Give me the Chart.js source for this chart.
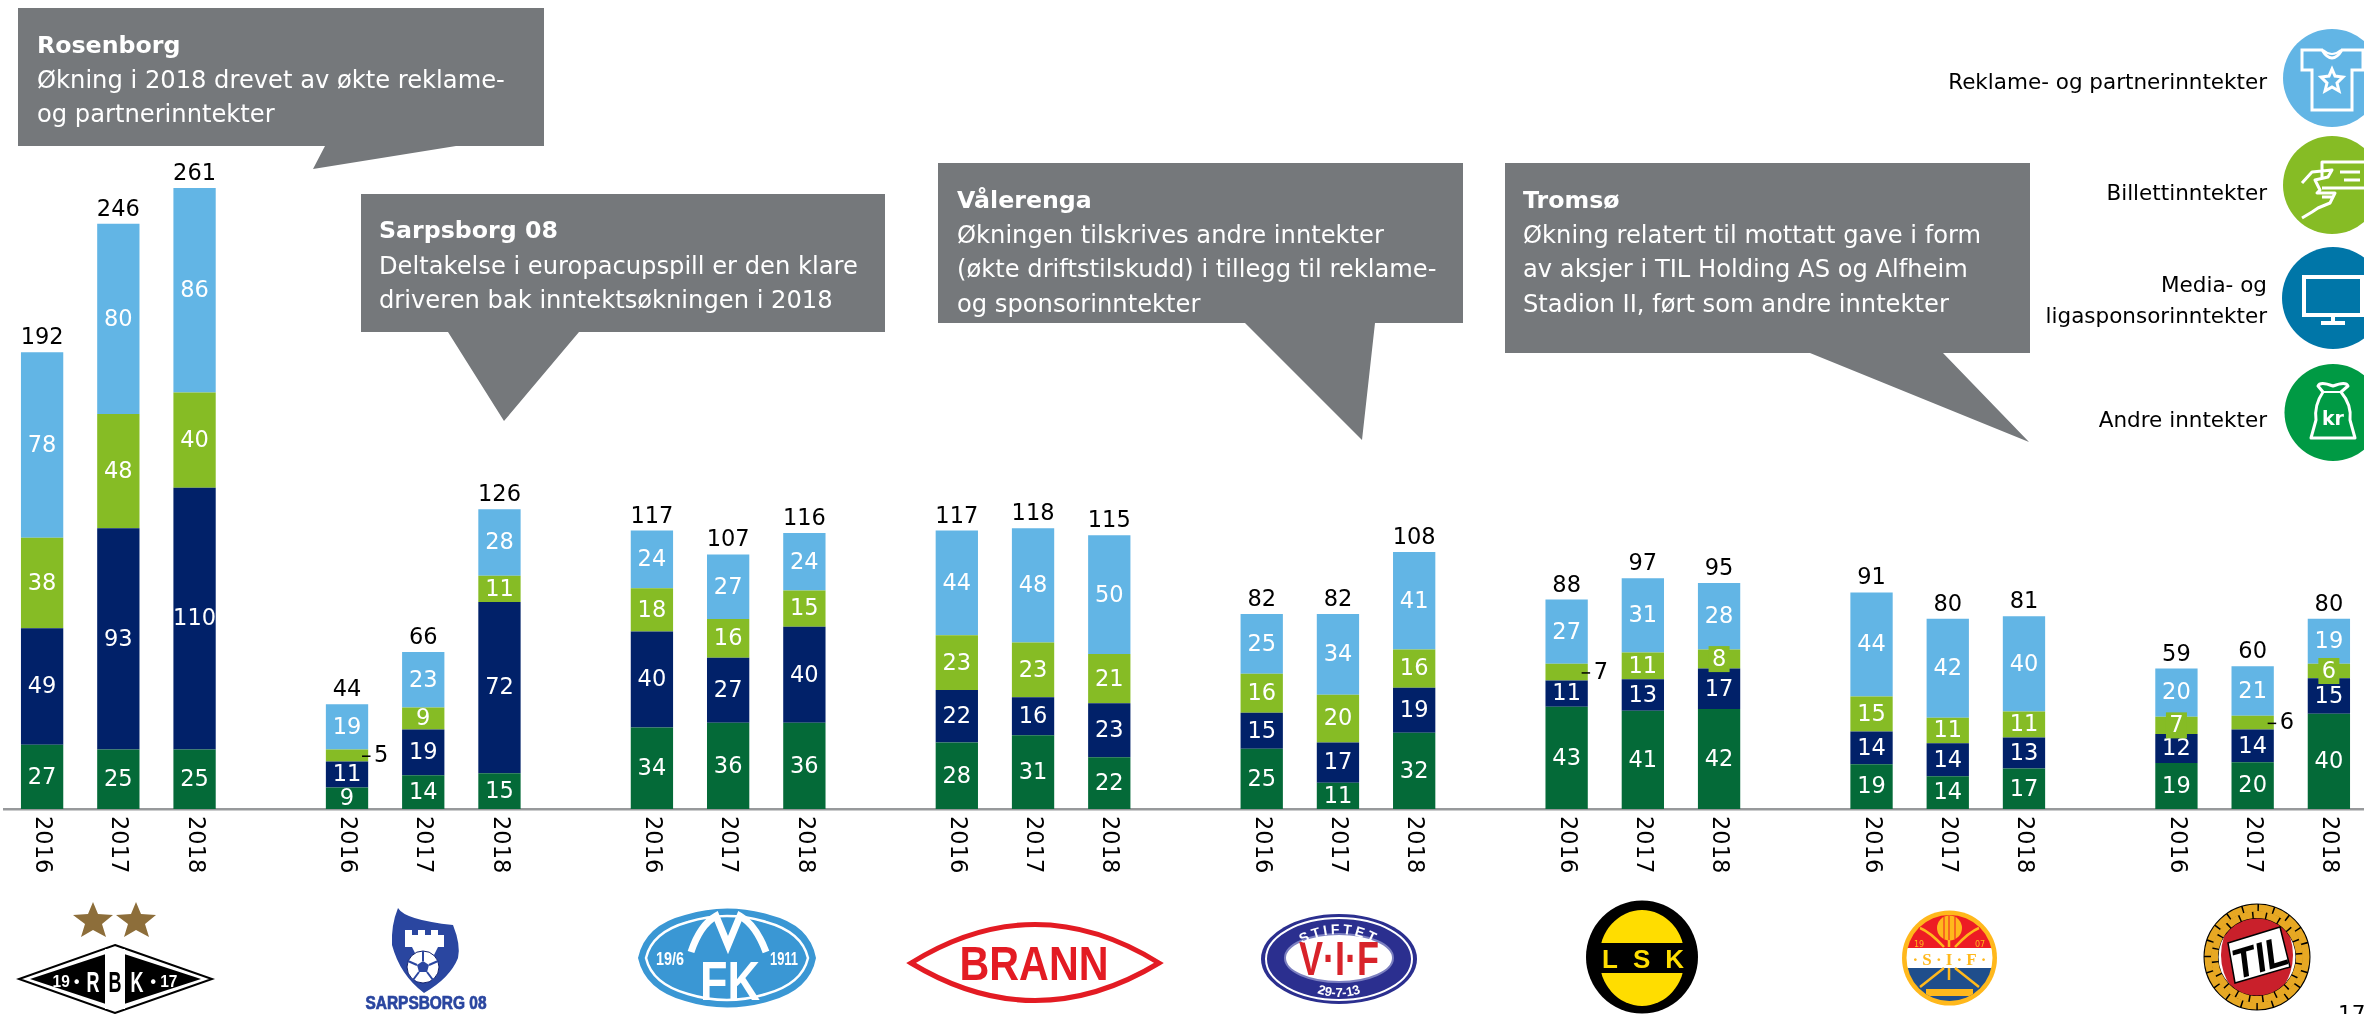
<!DOCTYPE html>
<html>
<head>
<meta charset="utf-8">
<script src="https://cdn.jsdelivr.net/npm/chart.js@4/dist/chart.umd.min.js"></script>
<style>
  html, body { margin: 0; padding: 0; background: #fff; overflow: hidden; width: 2364px; height: 1014px; }
  #wrap { position: relative; width: 2364px; height: 1014px; overflow: hidden; }
  #chartCanvas { position: absolute; left: 0; top: 0; }
  #overlay { position: absolute; left: 0; top: 0; }
  text { font-family: "DejaVu Sans", Verdana, sans-serif; }
  .cb { fill: #fff; font-size: 23.7px; font-weight: bold; }
  .ct { fill: #fff; font-size: 24.2px; }
  .lg { fill: #000; font-size: 21.5px; text-anchor: end; }
  .ln { font-family: "Liberation Sans", sans-serif; font-weight: bold; text-anchor: middle; }
</style>
</head>
<body>
<div id="wrap">
<canvas id="chartCanvas" width="2367" height="1014" style="width:2367px;height:1014px"></canvas>
<svg id="overlay" width="2364" height="1014" viewBox="0 0 2364 1014">
  <defs>
    <path id="vifTop" d="M1292 950 Q1339 918 1386 950"/>
    <path id="vifBottom" d="M1300 984 Q1339 1010 1378 984"/>
    <clipPath id="sifClip"><circle cx="1949.5" cy="958" r="43"/></clipPath>
  </defs>

  <!-- callouts -->
  <polygon fill="#75787b" points="18,8 544,8 544,146 456,146 313,169 325,146 18,146"/>
  <text class="cb" x="37" y="53">Rosenborg</text>
  <text class="ct" x="37" y="88">Økning i 2018 drevet av økte reklame-</text>
  <text class="ct" x="37" y="122">og partnerinntekter</text>

  <polygon fill="#75787b" points="361,194 885,194 885,332 579,332 504,421 448,332 361,332"/>
  <text class="cb" x="379" y="238">Sarpsborg 08</text>
  <text class="ct" x="379" y="274">Deltakelse i europacupspill er den klare</text>
  <text class="ct" x="379" y="308">driveren bak inntektsøkningen i 2018</text>

  <polygon fill="#75787b" points="938,163 1463,163 1463,323 1375,323 1362,440 1245,323 938,323"/>
  <text class="cb" x="957" y="208">Vålerenga</text>
  <text class="ct" x="957" y="243">Økningen tilskrives andre inntekter</text>
  <text class="ct" x="957" y="277">(økte driftstilskudd) i tillegg til reklame-</text>
  <text class="ct" x="957" y="312">og sponsorinntekter</text>

  <polygon fill="#75787b" points="1505,163 2030,163 2030,353 1943,353 2029,442 1810,353 1505,353"/>
  <text class="cb" x="1523" y="208">Tromsø</text>
  <text class="ct" x="1523" y="243">Økning relatert til mottatt gave i form</text>
  <text class="ct" x="1523" y="277">av aksjer i TIL Holding AS og Alfheim</text>
  <text class="ct" x="1523" y="312">Stadion II, ført som andre inntekter</text>

  <!-- legend -->
  <text class="lg" x="2267" y="89">Reklame- og partnerinntekter</text>
  <text class="lg" x="2267" y="200">Billettinntekter</text>
  <text class="lg" x="2267" y="292">Media- og</text>
  <text class="lg" x="2267" y="323">ligasponsorinntekter</text>
  <text class="lg" x="2267" y="427">Andre inntekter</text>

  <circle cx="2332" cy="78" r="49" fill="#62b5e5"/>
  <path d="M2302 50 L2322 50 Q2332 66 2342 50 L2363 50 L2363 70 L2352 70 L2352 110 L2312 110 L2312 70 L2302 70 Z" fill="none" stroke="#fff" stroke-width="3"/>
  <path d="M2323 50 Q2332 58 2341 50" fill="none" stroke="#fff" stroke-width="2"/>
  <polygon points="2332,69 2335,76 2343,77 2337,83 2339,91 2332,87 2325,91 2327,83 2321,77 2329,76" fill="none" stroke="#fff" stroke-width="3"/>

  <circle cx="2332" cy="185" r="49" fill="#86bc25"/>
  <path d="M2322 178 L2322 162 L2364 162 M2322 188 L2364 188 M2340 172 L2360 172 M2344 180 L2360 180 M2302 183 L2312 172 L2332 170 L2328 177 L2315 180 L2320 190 L2317 193 L2335 193 L2330 203 L2318 208 L2312 212 L2302 218 M2322 197 L2333 197" fill="none" stroke="#fff" stroke-width="3" stroke-linejoin="round"/>

  <circle cx="2333" cy="298" r="51" fill="#0076a8"/>
  <rect x="2304" y="277" width="58" height="38" fill="none" stroke="#fff" stroke-width="4"/>
  <path d="M2333 316 L2333 322 M2321 323 L2345 323" stroke="#fff" stroke-width="4" fill="none"/>

  <circle cx="2333" cy="412.5" r="48.5" fill="#009a44"/>
  <path d="M2323 392 L2318 386 Q2320 381 2333 386 Q2346 381 2348 386 L2341 392 Q2352 405 2350 420 L2355 438 L2311 438 L2316 420 Q2314 405 2323 392 Z" fill="none" stroke="#fff" stroke-width="3" stroke-linejoin="round"/>
  <path d="M2323 392 L2341 392" stroke="#fff" stroke-width="2"/>
  <text x="2333" y="425" text-anchor="middle" font-size="19" font-weight="bold" fill="#fff">kr</text>

  <!-- club logos -->
  <g fill="#8d6e3a">
    <polygon points="93,902 98,914 113,915 102,924 106,937 93,930 81,937 85,924 73,915 88,914"/>
    <polygon points="136,902 141,914 156,915 145,924 149,937 136,930 124,937 128,924 116,915 131,914"/>
  </g>
  <polygon points="115,945 212,979 115,1013 19,979" fill="#fff" stroke="#000" stroke-width="2"/>
  <polygon points="115,951 201,979 115,1007 30,979" fill="#000"/>
  <rect x="105" y="949" width="20" height="60" fill="#fff"/>
  <text class="ln" x="93" y="992" font-size="30" textLength="13" lengthAdjust="spacingAndGlyphs" fill="#fff">R</text>
  <text class="ln" x="115" y="992" font-size="30" textLength="13" lengthAdjust="spacingAndGlyphs" fill="#000">B</text>
  <text class="ln" x="137" y="992" font-size="30" textLength="13" lengthAdjust="spacingAndGlyphs" fill="#fff">K</text>
  <text class="ln" x="66" y="987" font-size="17" textLength="27" lengthAdjust="spacingAndGlyphs" fill="#fff">19 •</text>
  <text class="ln" x="164" y="987" font-size="17" textLength="27" lengthAdjust="spacingAndGlyphs" fill="#fff">• 17</text>

  <path d="M398 908 Q405 920 453 925 Q461 945 458 958 Q450 978 424 993 Q400 975 392 945 Q391 925 398 908 Z" fill="#2a46a0"/>
  <path d="M405 930 h7 v5 h6 v-5 h7 v5 h6 v-5 h7 v5 h6 v12 l-6 0 l-4 8 h-18 l-4 -8 h-7 Z" fill="#fff"/>
  <circle cx="423" cy="967" r="16" fill="#fff" stroke="#10206c" stroke-width="1"/>
  <polygon points="423,961 429,965 427,972 419,972 417,965" fill="#2a46a0"/>
  <path d="M423 951 L423 961 M429 965 L438 961 M427 972 L433 980 M419 972 L413 980 M417 965 L408 961" stroke="#2a46a0" stroke-width="2"/>
  <text class="ln" x="426" y="1009" font-size="17.5" textLength="121" lengthAdjust="spacingAndGlyphs" fill="#2a46a0" stroke="#2a46a0" stroke-width="0.7">SARPSBORG 08</text>

  <path d="M638 958 Q645 925 685 915 Q727 902 770 915 Q810 925 816 958 Q810 990 770 1001 Q727 1014 685 1001 Q645 990 638 958 Z" fill="#3a97d4"/>
  <path d="M646 958 Q652 932 688 922 Q727 910 766 922 Q802 932 808 958 Q802 984 766 994 Q727 1006 688 994 Q652 984 646 958 Z" fill="none" stroke="#fff" stroke-width="2.5"/>
  <text class="ln" x="670" y="965" font-size="18" textLength="28" lengthAdjust="spacingAndGlyphs" fill="#fff">19/6</text>
  <text class="ln" x="784" y="965" font-size="18" textLength="28" lengthAdjust="spacingAndGlyphs" fill="#fff">1911</text>
  <text class="ln" x="730" y="1000" font-size="55" textLength="60" lengthAdjust="spacingAndGlyphs" fill="#fff">FK</text>
  <path d="M691 952 Q700 925 716 916 L728 945 L740 916 Q756 925 766 952" fill="none" stroke="#fff" stroke-width="7"/>

  <path d="M911 963 Q1035 886 1159 963 Q1035 1038 911 963 Z" fill="#fff" stroke="#e31b23" stroke-width="5"/>
  <text class="ln" x="1034" y="980" font-size="49" textLength="149" lengthAdjust="spacingAndGlyphs" fill="#e31b23">BRANN</text>

  <ellipse cx="1339" cy="959" rx="78" ry="45" fill="#2b2f8f"/>
  <ellipse cx="1339" cy="959" rx="73" ry="41" fill="none" stroke="#fff" stroke-width="2"/>
  <ellipse cx="1339" cy="958" rx="54" ry="24" fill="#fff" stroke="#7c80c0" stroke-width="2"/>
  <text class="ln" x="1339" y="975" font-size="48" textLength="80" lengthAdjust="spacingAndGlyphs" fill="#d8232a">V·I·F</text>
  <text font-size="14" fill="#fff" font-weight="bold" letter-spacing="3" text-anchor="middle" style="font-family:'Liberation Sans'"><textPath href="#vifTop" startOffset="50%">STIFTET</textPath></text>
  <text font-size="13" fill="#fff" font-weight="bold" text-anchor="middle" style="font-family:'Liberation Sans'"><textPath href="#vifBottom" startOffset="50%">29-7-13</textPath></text>

  <ellipse cx="1642" cy="957" rx="56" ry="56.5" fill="#000"/>
  <ellipse cx="1642" cy="958" rx="43" ry="48" fill="#ffdd00"/>
  <rect x="1590" y="943" width="104" height="30" fill="#000"/>
  <text class="ln" x="1643" y="968" font-size="26" textLength="82" fill="#ffdd00">LSK</text>

  <circle cx="1949.5" cy="958" r="47.5" fill="#ffb81c"/>
  <g clip-path="url(#sifClip)">
    <rect x="1900" y="910" width="100" height="38" fill="#ed1c24"/>
    <rect x="1900" y="948" width="100" height="20" fill="#fff"/>
    <rect x="1900" y="968" width="100" height="40" fill="#1f4e8c"/>
    <path d="M1920 928 Q1930 932 1944 947 M1979 928 Q1969 932 1955 947 M1920 987 L1944 968 M1979 987 L1955 968 M1949 940 L1949 947 M1949 968 L1949 980" stroke="#ffb81c" stroke-width="2.5" fill="none"/>
    <rect x="1926" y="989" width="47" height="7" fill="#ffb81c"/>
  </g>
  <circle cx="1949.5" cy="928" r="12.5" fill="#ffb81c"/>
  <path d="M1944 917 L1944 939 M1949 916 L1949 940 M1955 917 L1955 939" stroke="#ed1c24" stroke-width="1"/>
  <text x="1919" y="947" font-size="8" fill="#ffb81c" text-anchor="middle">19</text>
  <text x="1980" y="947" font-size="8" fill="#ffb81c" text-anchor="middle">07</text>
  <text x="1949.5" y="965" text-anchor="middle" font-size="17" font-weight="bold" textLength="74" fill="#ffb81c" style="font-family:'Liberation Serif'">·S·I·F·</text>

  <ellipse cx="2257" cy="955" rx="36" ry="46" fill="#c9202b"/>
  <circle cx="2257" cy="957" r="46" fill="none" stroke="#000" stroke-width="15"/>
  <circle cx="2257" cy="957" r="49" fill="none" stroke="#e7a823" stroke-width="7" stroke-dasharray="14 1.5"/>
  <circle cx="2257" cy="957" r="42.5" fill="none" stroke="#e7a823" stroke-width="7" stroke-dasharray="12 1.5" stroke-dashoffset="6"/>
  <polygon points="2228,943 2280,927 2290,967 2235,983" fill="#fff" stroke="#000" stroke-width="1.5"/>
  <text class="ln" x="2260" y="972" font-size="42" font-style="italic" textLength="56" lengthAdjust="spacingAndGlyphs" fill="#000" transform="rotate(-17 2260 957)">TIL</text>

  <text x="2338" y="1021" font-size="21.5" fill="#000">17</text>
</svg>
</div>

<script>
// Inntekter per klubb, MNOK. Tom kategori mellom hver klubb.
// Noen verdier har desimaler anslått fra stolpehøyden, slik at stabelen treffer totalen.
var categories = ["2016","2017","2018","",
  "2016","2017","2018","",
  "2016","2017","2018","",
  "2016","2017","2018","",
  "2016","2017","2018","",
  "2016","2017","2018","",
  "2016","2017","2018","",
  "2016","2017","2018"];

var andre = [27,25,25,null, 9,14.2,15,null, 34.3,36.3,36.3,null, 28,31,21.7,null, 25.3,11,32,null, 43,41.3,42,null, 18.8,13.8,17,null, 19.3,19.7,40];
var media = [49,93,110,null, 11,19.2,72,null, 40.3,27.3,40.3,null, 22,16,22.7,null, 15.2,17,19,null, 11,13.2,17,null, 13.8,13.8,13,null, 12.2,13.7,15];
var billett = [38,48,40,null, 5,9.3,11,null, 18.2,16.2,15.2,null, 23,23,20.7,null, 16.3,20,16,null, 7,11.3,8,null, 14.7,10.7,11,null, 7.3,5.8,6];
var reklame = [78,80,86,null, 19,23.3,28,null, 24.2,27.2,24.2,null, 44,48,49.9,null, 25.2,34,41,null, 27,31.2,28,null, 43.7,41.7,40,null, 20.2,20.8,19];
var totals = [192,246,261,null, 44,66,126,null, 117,107,116,null, 117,118,115,null, 82,82,108,null, 88,97,95,null, 91,80,81,null, 59,60,80];

var labelFont = '22.5px "DejaVu Sans", Verdana, sans-serif';

// draws year ticks, segment values and totals from the bar elements
var labelsPlugin = {
    id: 'labelsPlugin',
    afterDatasetsDraw: function(chart) {
        var c = chart.ctx;
        var xScale = chart.scales.x;
        var yScale = chart.scales.y;
        c.save();
        c.font = labelFont;

        // segment values
        chart.data.datasets.forEach(function(ds, di) {
            var meta = chart.getDatasetMeta(di);
            meta.data.forEach(function(bar, i) {
                var v = ds.data[i];
                if (v === null) return;
                var h = Math.abs(bar.base - bar.y);
                var mid = (bar.base + bar.y) / 2;
                // thin slices get the value beside the bar with a small tick
                if (ds.label === 'Billettinntekter' && (i === 4 || i === 20 || i === 29)) {
                    c.fillStyle = '#000';
                    c.fillRect(bar.x + 15, mid, 8.5, 1.5);
                    c.textAlign = 'left';
                    c.textBaseline = 'middle';
                    c.fillText(String(Math.round(v)), bar.x + 27, mid + 1);
                    return;
                }
                // small labels keep a patch of the segment colour behind them
                if (h < 20) {
                    c.fillStyle = ds.backgroundColor;
                    c.fillRect(bar.x - 10.5, mid - 13, 21, 26);
                }
                c.fillStyle = '#fff';
                c.textAlign = 'center';
                c.textBaseline = 'middle';
                c.fillText(String(Math.round(v)), bar.x, mid + 1);
            });
        });

        // totals
        c.fillStyle = '#000';
        c.textAlign = 'center';
        c.textBaseline = 'alphabetic';
        var top = chart.getDatasetMeta(3);
        totals.forEach(function(t, i) {
            if (t === null) return;
            c.fillText(String(t), top.data[i].x, top.data[i].y - 8);
        });

        // year labels, read top to bottom
        categories.forEach(function(cat, i) {
            if (!cat) return;
            c.save();
            c.translate(xScale.getPixelForValue(i), yScale.getPixelForValue(0) + 7);
            c.rotate(Math.PI / 2);
            c.textAlign = 'left';
            c.textBaseline = 'middle';
            c.fillText(cat, 0, 0);
            c.restore();
        });
        c.restore();
    }
};

var ctx = document.getElementById("chartCanvas");

var myChart = new Chart(ctx, {
    type: 'bar',
    data: {
        labels: categories,
        datasets: [
            { label: 'Andre inntekter', data: andre, backgroundColor: '#046a38', borderWidth: 0 },
            { label: 'Media- og ligasponsorinntekter', data: media, backgroundColor: '#012169', borderWidth: 0 },
            { label: 'Billettinntekter', data: billett, backgroundColor: '#86bc25', borderWidth: 0 },
            { label: 'Reklame- og partnerinntekter', data: reklame, backgroundColor: '#62b5e5', borderWidth: 0 }
        ]
    },
    options: {
        responsive: false,
        animation: false,
        devicePixelRatio: 1,
        layout: { padding: { left: 4, right: 0, top: 0, bottom: 197 } },
        datasets: { bar: { categoryPercentage: 1, barPercentage: 0.555 } },
        scales: {
            x: {
                stacked: true,
                offset: true,
                grid: { display: false },
                border: { display: true, color: '#97999b', width: 2.5 },
                ticks: { display: false }
            },
            y: {
                stacked: true,
                display: false,
                min: 0,
                max: 340
            }
        },
        plugins: {
            legend: { display: false },
            tooltip: { enabled: false }
        }
    },
    plugins: [labelsPlugin]
});
</script>
</body>
</html>
